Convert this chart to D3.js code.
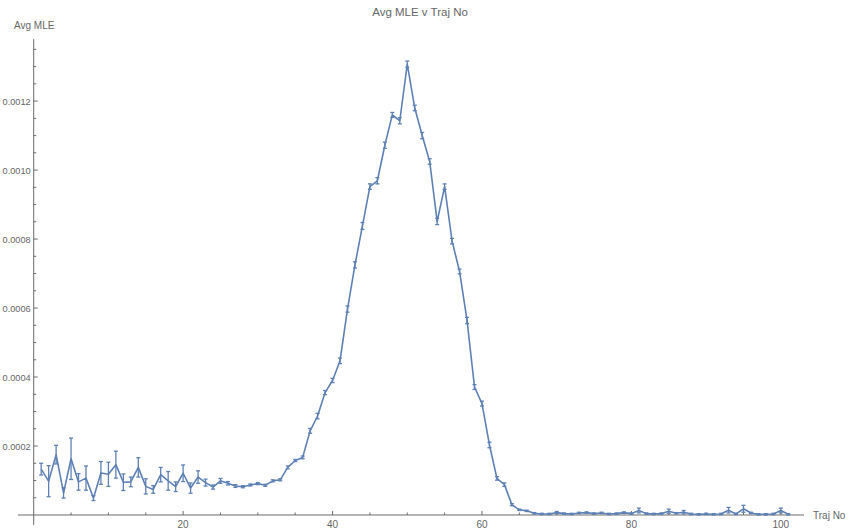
<!DOCTYPE html>
<html>
<head>
<meta charset="utf-8">
<script src="https://cdn.jsdelivr.net/npm/d3@7"></script>
<style>
    body { margin: 0; background: #fff; }
    svg text { font-family: "Liberation Sans", Arial, sans-serif; fill: #666; }
</style>
</head>
<body>
<svg width="849" height="529"></svg>
<script>
// Mean MLE per trajectory (units of 1e-4), trajectories 1..101
const avgMLE = [
    1.33, 0.98, 1.75, 0.64, 1.63, 0.96, 1.07, 0.49, 1.22, 1.18,
    1.46, 0.95, 0.96, 1.38, 0.83, 0.74, 1.17, 0.99, 0.82, 1.21,
    0.78, 1.10, 0.94, 0.81, 0.99, 0.92, 0.84, 0.82, 0.87, 0.91,
    0.86, 0.99, 1.02, 1.38, 1.58, 1.67, 2.44, 2.87, 3.55, 3.90,
    4.47, 5.97, 7.25, 8.38, 9.52, 9.69, 10.72, 11.60, 11.43, 13.07,
    11.80, 11.00, 10.25, 8.51, 9.52, 7.94, 7.06, 5.64, 3.71, 3.23,
    2.03, 1.06, 0.88, 0.30, 0.15, 0.12, 0.05, 0.03, 0.03, 0.07,
    0.04, 0.03, 0.06, 0.07, 0.04, 0.06, 0.03, 0.04, 0.07, 0.04,
    0.13, 0.04, 0.03, 0.04, 0.11, 0.05, 0.08, 0.03, 0.02, 0.03,
    0.02, 0.03, 0.14, 0.03, 0.18, 0.06, 0.02, 0.02, 0.03, 0.13,
    0.02
];
// Half-width of the error bars (same units)
const errMLE = [
    0.17, 0.45, 0.27, 0.15, 0.60, 0.24, 0.35, 0.07, 0.33, 0.35,
    0.39, 0.24, 0.14, 0.28, 0.22, 0.11, 0.21, 0.27, 0.14, 0.24,
    0.15, 0.18, 0.10, 0.06, 0.07, 0.05, 0.04, 0.03, 0.03, 0.03,
    0.03, 0.03, 0.03, 0.04, 0.03, 0.04, 0.07, 0.08, 0.06, 0.06,
    0.08, 0.09, 0.09, 0.10, 0.08, 0.09, 0.09, 0.07, 0.09, 0.09,
    0.08, 0.09, 0.08, 0.09, 0.08, 0.08, 0.07, 0.09, 0.07, 0.07,
    0.08, 0.05, 0.05, 0.03, 0.02, 0.02, 0.02, 0.02, 0.02, 0.03,
    0.02, 0.02, 0.02, 0.02, 0.02, 0.02, 0.02, 0.02, 0.02, 0.02,
    0.07, 0.02, 0.02, 0.02, 0.06, 0.02, 0.05, 0.02, 0.02, 0.02,
    0.02, 0.02, 0.08, 0.02, 0.10, 0.02, 0.02, 0.02, 0.02, 0.07,
    0.02
];
const unit = 1e-4;

const xTicks = [20, 40, 60, 80, 100];
const yTicks = [0.0002, 0.0004, 0.0006, 0.0008, 0.0010, 0.0012];

const lineColor = '#5e81b5';
const axisColor = '#6b6b6b';

const points = avgMLE.map((v, i) => ({ n: i + 1, v: v * unit, e: errMLE[i] * unit }));

const svg = d3.select('svg');

const x = d3.scaleLinear().domain([-2.1, 103.1]).range([18, 804]);
const y = d3.scaleLinear().domain([-0.000029, 0.00138]).range([525, 39]);

// Axes, Mathematica style: lines through the origin with ticks pointing inwards
const axes = svg.append('g').attr('stroke', axisColor).attr('stroke-width', 1);
axes.append('line')
    .attr('x1', x.range()[0]).attr('x2', x.range()[1])
    .attr('y1', y(0)).attr('y2', y(0));
axes.append('line')
    .attr('x1', x(0)).attr('x2', x(0))
    .attr('y1', y.range()[0]).attr('y2', y.range()[1]);

// minor + major ticks on x
d3.range(5, 105, 5).forEach(t => {
    const major = t % 20 === 0;
    axes.append('line')
        .attr('x1', x(t)).attr('x2', x(t))
        .attr('y1', y(0)).attr('y2', y(0) - (major ? 4 : 2.5));
});
// minor + major ticks on y
d3.range(1, 28).map(k => k * 0.00005).forEach(t => {
    const major = Math.abs(t / 0.0002 - Math.round(t / 0.0002)) < 1e-6;
    axes.append('line')
        .attr('x1', x(0)).attr('x2', x(0) + (major ? 4 : 2.5))
        .attr('y1', y(t)).attr('y2', y(t));
});

svg.append('g').selectAll('text')
    .data(xTicks)
    .join('text')
    .attr('x', d => x(d))
    .attr('y', y(0) + 13)
    .attr('text-anchor', 'middle')
    .attr('font-size', 10)
    .text(d => d);

svg.append('g').selectAll('text')
    .data(yTicks)
    .join('text')
    .attr('x', x(0) - 3)
    .attr('y', d => y(d) + 3.5)
    .attr('text-anchor', 'end')
    .attr('font-size', 9.2)
    .text(d => d3.format('.4f')(d));

// Data line
svg.append('path')
    .datum(points)
    .attr('fill', 'none')
    .attr('stroke', lineColor)
    .attr('stroke-width', 1.6)
    .attr('stroke-linejoin', 'round')
    .attr('d', d3.line().x(d => x(d.n)).y(d => y(d.v)));

// Error bars with caps
const bars = svg.append('g')
    .attr('stroke', lineColor)
    .attr('stroke-width', 1.3)
    .selectAll('g')
    .data(points)
    .join('g');
bars.append('line')
    .attr('x1', d => x(d.n)).attr('x2', d => x(d.n))
    .attr('y1', d => y(d.v - d.e)).attr('y2', d => y(d.v + d.e));
bars.append('line')
    .attr('x1', d => x(d.n) - 2).attr('x2', d => x(d.n) + 2)
    .attr('y1', d => y(d.v + d.e)).attr('y2', d => y(d.v + d.e));
bars.append('line')
    .attr('x1', d => x(d.n) - 2).attr('x2', d => x(d.n) + 2)
    .attr('y1', d => y(d.v - d.e)).attr('y2', d => y(d.v - d.e));

// Labels
svg.append('text')
    .attr('x', 14).attr('y', 29)
    .attr('font-size', 10)
    .text('Avg MLE');
svg.append('text')
    .attr('x', 813).attr('y', 519)
    .attr('font-size', 10)
    .text('Traj No');
svg.append('text')
    .attr('x', 420).attr('y', 16)
    .attr('text-anchor', 'middle')
    .attr('font-size', 11.5)
    .text('Avg MLE v Traj No');
</script>
</body>
</html>
